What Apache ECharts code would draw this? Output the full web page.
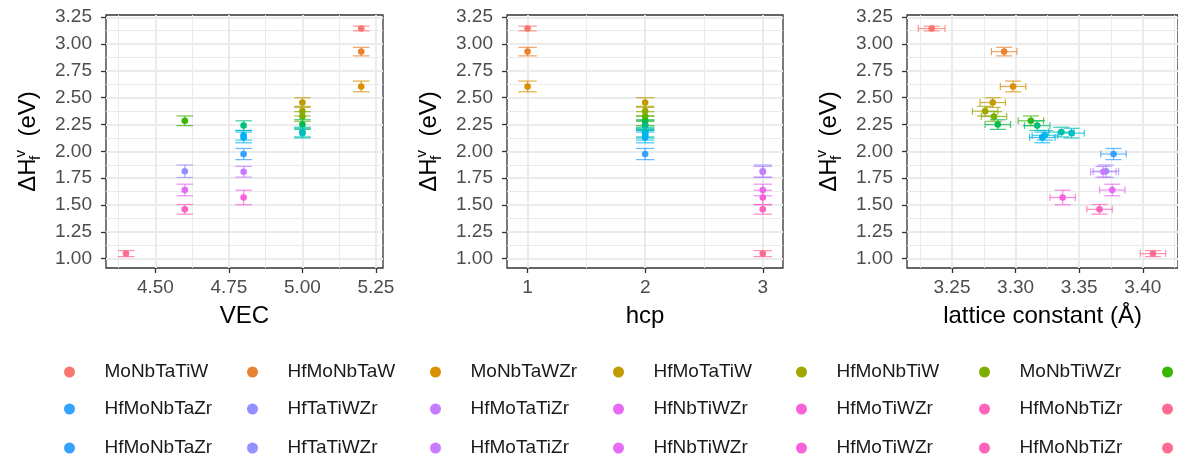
<!DOCTYPE html>
<html>
<head>
<meta charset="utf-8">
<script src="https://cdn.jsdelivr.net/npm/echarts@6/dist/echarts.min.js"></script>
<style>
  html, body { margin: 0; padding: 0; background: #fff; }
  #chart { width: 1178px; height: 459px; }
</style>
</head>
<body>
<div id="chart"></div>
<script>
// compounds ordered by formation energy (as in the legend)
const compounds = ['MoNbTaTiW', 'HfMoNbTaW', 'MoNbTaWZr', 'HfMoTaTiW', 'HfMoNbTiW', 'MoNbTiWZr', 'alloy 7',
  'alloy 8', 'alloy 9', 'alloy 10', 'alloy 11', 'alloy 12', 'alloy 13',
  'HfMoNbTaZr', 'HfTaTiWZr', 'HfMoTaTiZr', 'HfNbTiWZr', 'HfMoTiWZr', 'HfMoNbTiZr', 'HfNbTaTiZr'];
const colors = ['#F8766D', '#EA8331', '#D89000', '#C09B00', '#A3A500', '#7CAE00', '#39B600',
  '#00BB4E', '#00BF7D', '#00C1A3', '#00BFC4', '#00BAE0', '#00B0F6',
  '#35A2FF', '#9590FF', '#C77CFF', '#E76BF3', '#FA62DB', '#FF62BC', '#FF6C91'];
const vec = [5.2, 5.2, 5.2, 5.0, 5.0, 5.0, 4.6, 5.0, 4.8, 5.0, 5.0, 4.8, 4.8, 4.8, 4.6, 4.8, 4.6, 4.8, 4.6, 4.4];
const hcp = [1, 1, 1, 2, 2, 2, 2, 2, 2, 2, 2, 2, 2, 2, 3, 3, 3, 3, 3, 3];
const lattice = [3.234, 3.291, 3.298, 3.282, 3.276, 3.283, 3.312, 3.286, 3.317, 3.336, 3.344, 3.323, 3.321,
  3.377, 3.371, 3.369, 3.376, 3.337, 3.366, 3.408];
const latticeErr = [0.0105, 0.010, 0.010, 0.010, 0.010, 0.010, 0.010, 0.010, 0.010, 0.010, 0.010, 0.010, 0.010,
  0.010, 0.010, 0.010, 0.010, 0.010, 0.010, 0.010];
const dH = [3.145, 2.93, 2.605, 2.455, 2.375, 2.325, 2.285, 2.25, 2.24, 2.18, 2.17, 2.15, 2.13,
  1.975, 1.815, 1.81, 1.64, 1.57, 1.46, 1.047];
const dHErr = [0.022, 0.04, 0.05, 0.045, 0.045, 0.045, 0.045, 0.045, 0.045, 0.045, 0.045, 0.045, 0.05,
  0.052, 0.058, 0.05, 0.054, 0.068, 0.045, 0.028];

const dHTicks = [1.00, 1.25, 1.50, 1.75, 2.00, 2.25, 2.50, 2.75, 3.00, 3.25];
const dHMinor = [1.125, 1.375, 1.625, 1.875, 2.125, 2.375, 2.625, 2.875, 3.125];
const vecTicks = [4.50, 4.75, 5.00, 5.25];
const vecMinor = [4.375, 4.625, 4.875, 5.125];
const hcpTicks = [1, 2, 3];
const hcpMinor = [1.5, 2.5];
const latTicks = [3.25, 3.30, 3.35, 3.40];
const latMinor = [3.225, 3.275, 3.325, 3.375, 3.425];

const FONT = '"Liberation Sans", Arial, sans-serif';
const yRange = [0.913, 3.271];
const panels = [
  { left: 106, width: 277, min: 4.332, max: 5.274, ticks: vecTicks, minor: vecMinor, dec: 2, name: 'VEC', xs: vec, cap: 8.3 },
  { left: 507, width: 276, min: 0.825, max: 3.172, ticks: hcpTicks, minor: hcpMinor, dec: 0, name: 'hcp', xs: hcp, cap: 9.2 },
  { left: 907, width: 277, min: 3.2146, max: 3.4277, ticks: latTicks, minor: latMinor, dec: 2, name: 'lattice constant (Å)', xs: lattice, cap: 8, xerr: latticeErr }
];

const myChart = echarts.init(document.getElementById('chart'), null, { renderer: 'canvas' });

function majorX(gi, p) {
  return {
    type: 'value', gridIndex: gi, min: p.min, max: p.max,
    name: p.name, nameLocation: 'middle', nameGap: 36,
    nameTextStyle: { fontSize: 24, color: '#000', fontFamily: FONT },
    axisLine: { show: false, onZero: false },
    axisTick: { show: true, length: 5, lineStyle: { color: '#333', width: 1.3 }, customValues: p.ticks },
    axisLabel: { customValues: p.ticks, formatter: v => v.toFixed(p.dec), fontSize: 19, color: '#4d4d4d', margin: 10, fontFamily: FONT },
    splitLine: { show: true, lineStyle: { color: '#ebebeb', width: 2 } }
  };
}
function majorY(gi) {
  return {
    type: 'value', gridIndex: gi, min: yRange[0], max: yRange[1], position: 'left',
    name: '{a|ΔH}{f|f}{v|v}{a|  (eV)}', nameLocation: 'middle', nameGap: 63,
    nameTextStyle: {
      fontSize: 24, color: '#000', fontFamily: FONT,
      rich: {
        a: { fontSize: 24, color: '#000', fontFamily: FONT, lineHeight: 30 },
        f: { fontSize: 15, color: '#000', fontFamily: FONT, lineHeight: 15, verticalAlign: 'bottom', width: 1 },
        v: { fontSize: 15, color: '#000', fontFamily: FONT, lineHeight: 15, verticalAlign: 'top' }
      }
    },
    axisLine: { show: false, onZero: false },
    axisTick: { show: true, length: 5, lineStyle: { color: '#333', width: 1.3 }, customValues: dHTicks },
    axisLabel: { customValues: dHTicks, formatter: v => v.toFixed(2), fontSize: 19, color: '#4d4d4d', margin: 14, fontFamily: FONT },
    splitLine: { show: true, lineStyle: { color: '#ebebeb', width: 2 } }
  };
}
function minorAxis(gi, min, max, ticks, pos) {
  return {
    type: 'value', gridIndex: gi, min: min, max: max, position: pos,
    axisLine: { show: false, onZero: false },
    axisTick: { show: false, customValues: ticks },
    axisLabel: { show: false },
    splitLine: { show: true, lineStyle: { color: '#ebebeb', width: 1 } },
    z: 0
  };
}

function makeRender(p) {
  return function (params, api) {
    const x = api.value(0), y = api.value(1), ey = api.value(2), ex = api.value(3);
    const c = api.visual('color');
    const pt = api.coord([x, y]);
    const lo = api.coord([x, y - ey]);
    const hi = api.coord([x, y + ey]);
    const ls = { stroke: c, lineWidth: 1.2, opacity: 0.75 };
    const children = [
      { type: 'line', shape: { x1: pt[0], y1: lo[1], x2: pt[0], y2: hi[1] }, style: ls },
      { type: 'line', shape: { x1: pt[0] - p.cap, y1: lo[1], x2: pt[0] + p.cap, y2: lo[1] }, style: ls },
      { type: 'line', shape: { x1: pt[0] - p.cap, y1: hi[1], x2: pt[0] + p.cap, y2: hi[1] }, style: ls }
    ];
    if (p.xerr) {
      const l = api.coord([x - ex, y]);
      const r = api.coord([x + ex, y]);
      children.push(
        { type: 'line', shape: { x1: l[0], y1: pt[1], x2: r[0], y2: pt[1] }, style: ls },
        { type: 'line', shape: { x1: l[0], y1: pt[1] - 3.5, x2: l[0], y2: pt[1] + 3.5 }, style: ls },
        { type: 'line', shape: { x1: r[0], y1: pt[1] - 3.5, x2: r[0], y2: pt[1] + 3.5 }, style: ls }
      );
    }
    children.push({ type: 'circle', shape: { cx: pt[0], cy: pt[1], r: 3.3 }, style: { fill: c } });
    return { type: 'group', children: children };
  };
}

let series = [];
panels.forEach((p, gi) => {
  compounds.forEach((name, i) => {
    series.push({
      type: 'custom', name: name, xAxisIndex: gi, yAxisIndex: gi,
      itemStyle: { color: colors[i] },
      renderItem: makeRender(p),
      data: [[p.xs[i], dH[i], dHErr[i], p.xerr ? p.xerr[i] : 0]],
      clip: false, z: 5
    });
  });
});

function legendRow(names, top) {
  return {
    type: 'plain', orient: 'horizontal', left: 59, top: top, width: 1500,
    data: names, icon: 'circle', itemWidth: 60, itemHeight: 11, itemGap: 24.5,
    selectedMode: false,
    textStyle: { fontSize: 19, color: '#1a1a1a', fontFamily: FONT, width: 118, lineHeight: 22 }
  };
}

let option = {
  animation: false,
  backgroundColor: '#fff',
  grid: panels.map(p => ({
    left: p.left, top: 15, width: p.width, height: 253,
    show: true, borderColor: '#333', borderWidth: 1.3, backgroundColor: '#fff', containLabel: false
  })),
  xAxis: panels.map((p, gi) => majorX(gi, p)).concat(panels.map((p, gi) => minorAxis(gi, p.min, p.max, p.minor, 'bottom'))),
  yAxis: panels.map((p, gi) => majorY(gi)).concat(panels.map((p, gi) => minorAxis(gi, yRange[0], yRange[1], dHMinor, 'left'))),
  legend: [
    legendRow(compounds.slice(0, 7), 356),
    legendRow(compounds.slice(13, 20), 393),
    legendRow(compounds.slice(13, 20), 432)
  ],
  series: series
};
option && myChart.setOption(option);
</script>
</body>
</html>
